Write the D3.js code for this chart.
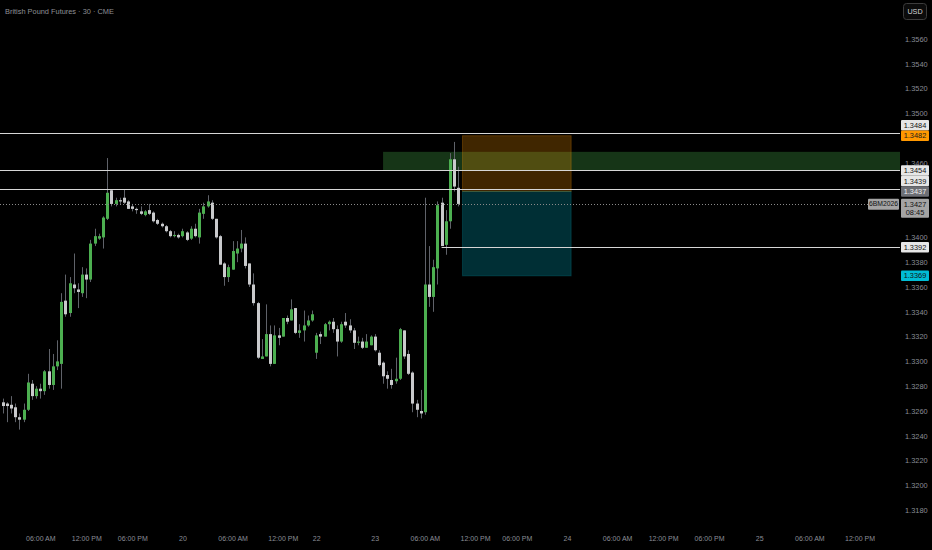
<!DOCTYPE html>
<html><head><meta charset="utf-8">
<script src="https://cdn.jsdelivr.net/npm/d3@7"></script>
<style>html,body{margin:0;padding:0;background:#000;overflow:hidden}svg{display:block}</style>
</head><body>
<svg id="c" width="932" height="550"></svg>
<script>
const title = "British Pound Futures · 30 · CME";
const currency = "USD";
const symbolCode = "6BM2026";
const countdown = "08:45";

const opens  = [1.3267,1.3266,1.3265,1.3263,1.3255,1.3253,1.3261,1.3282,1.3272,1.3278,1.3276,1.3292,1.3281,1.3296,1.3298,1.3349,1.3339,1.3362,1.3358,1.3355,1.3370,1.3366,1.3395,1.3399,1.3400,1.3415,1.3438,1.3427,1.3430,1.3432,1.3429,1.3425,1.3423,1.3421,1.3418,1.3422,1.3420,1.3414,1.3411,1.3409,1.3405,1.3401,1.3402,1.3401,1.3404,1.3399,1.3407,1.3400,1.3419,1.3425,1.3428,1.3415,1.3401,1.3379,1.3368,1.3374,1.3387,1.3391,1.3395,1.3379,1.3362,1.3347,1.3302,1.3304,1.3322,1.3298,1.3321,1.3320,1.3335,1.3333,1.3343,1.3323,1.3325,1.3329,1.3333,1.3307,1.3322,1.3320,1.3330,1.3332,1.3326,1.3316,1.3332,1.3329,1.3325,1.3315,1.3316,1.3311,1.3313,1.3320,1.3307,1.3299,1.3289,1.3285,1.3284,1.3286,1.3325,1.3306,1.3291,1.3266,1.3260,1.3259,1.3362,1.3352,1.3375,1.3428,1.3394,1.3413,1.3463,1.3440];
const highs  = [1.3270,1.3267,1.3272,1.3266,1.3258,1.3266,1.3290,1.3285,1.3280,1.3282,1.3293,1.3310,1.3306,1.3317,1.3355,1.3370,1.3368,1.3387,1.3363,1.3376,1.3375,1.3398,1.3407,1.3403,1.3417,1.3464,1.3439,1.3432,1.3432,1.3439,1.3430,1.3427,1.3424,1.3425,1.3422,1.3427,1.3421,1.3415,1.3412,1.3410,1.3406,1.3405,1.3403,1.3407,1.3405,1.3409,1.3411,1.3423,1.3428,1.3434,1.3430,1.3415,1.3402,1.3380,1.3378,1.3397,1.3397,1.3406,1.3400,1.3379,1.3371,1.3348,1.3318,1.3346,1.3329,1.3329,1.3327,1.3335,1.3337,1.3350,1.3343,1.3330,1.3341,1.3337,1.3341,1.3323,1.3324,1.3331,1.3333,1.3335,1.3329,1.3332,1.3339,1.3334,1.3327,1.3320,1.3319,1.3322,1.3321,1.3322,1.3309,1.3300,1.3292,1.3294,1.3303,1.3327,1.3325,1.3309,1.3292,1.3269,1.3277,1.3432,1.3393,1.3382,1.3429,1.3432,1.3422,1.3468,1.3477,1.3457];
const lows   = [1.3258,1.3251,1.3258,1.3251,1.3245,1.3251,1.3260,1.3269,1.3270,1.3270,1.3273,1.3278,1.3277,1.3293,1.3278,1.3336,1.3336,1.3355,1.3343,1.3352,1.3351,1.3364,1.3393,1.3398,1.3391,1.3414,1.3425,1.3425,1.3427,1.3427,1.3423,1.3421,1.3419,1.3418,1.3417,1.3418,1.3412,1.3410,1.3408,1.3404,1.3400,1.3400,1.3399,1.3400,1.3397,1.3398,1.3400,1.3395,1.3415,1.3424,1.3414,1.3399,1.3378,1.3361,1.3364,1.3374,1.3380,1.3388,1.3375,1.3360,1.3345,1.3302,1.3302,1.3304,1.3296,1.3298,1.3313,1.3320,1.3330,1.3333,1.3322,1.3319,1.3316,1.3328,1.3332,1.3302,1.3314,1.3320,1.3325,1.3323,1.3304,1.3315,1.3327,1.3323,1.3310,1.3313,1.3310,1.3311,1.3313,1.3308,1.3296,1.3282,1.3278,1.3278,1.3282,1.3285,1.3302,1.3289,1.3259,1.3255,1.3254,1.3257,1.3344,1.3340,1.3362,1.3393,1.3386,1.3407,1.3437,1.3425];
const closes = [1.3264,1.3264,1.3262,1.3255,1.3253,1.3261,1.3283,1.3272,1.3278,1.3276,1.3292,1.3281,1.3296,1.3300,1.3348,1.3338,1.3363,1.3359,1.3356,1.3370,1.3366,1.3395,1.3401,1.3401,1.3416,1.3436,1.3427,1.3430,1.3429,1.3428,1.3423,1.3423,1.3422,1.3419,1.3421,1.3419,1.3413,1.3411,1.3409,1.3405,1.3401,1.3402,1.3400,1.3405,1.3398,1.3407,1.3401,1.3420,1.3425,1.3429,1.3415,1.3400,1.3378,1.3368,1.3376,1.3389,1.3391,1.3395,1.3377,1.3362,1.3347,1.3303,1.3304,1.3322,1.3298,1.3321,1.3319,1.3335,1.3332,1.3342,1.3323,1.3325,1.3329,1.3333,1.3338,1.3321,1.3320,1.3330,1.3332,1.3326,1.3316,1.3330,1.3329,1.3325,1.3315,1.3316,1.3311,1.3316,1.3320,1.3309,1.3297,1.3288,1.3286,1.3281,1.3286,1.3326,1.3304,1.3290,1.3266,1.3261,1.3258,1.3362,1.3352,1.3376,1.3426,1.3393,1.3413,1.3463,1.3441,1.3427];

const priceTicks = [1.3180,1.3200,1.3220,1.3240,1.3260,1.3280,1.3300,1.3320,1.3340,1.3360,1.3380,1.3400,1.3420,1.3440,1.3460,1.3480,1.3500,1.3520,1.3540,1.3560];
const timeTickBars = [9,20,31,43,55,67,75,89,101,113,123,135,147,158,169,181,193,205];
const timeTickLabels = ["06:00 AM","12:00 PM","06:00 PM","20","06:00 AM","12:00 PM","22","23","06:00 AM","12:00 PM","06:00 PM","24","06:00 AM","12:00 PM","06:00 PM","25","06:00 AM","12:00 PM"];

// horizontal levels
const levelPrices = [1.3484, 1.3454, 1.3439, 1.3392];
const levelStartBars = [null, null, null, 105];

// supply zone
const zoneTop = 1.3469, zoneBottom = 1.3454, zoneStartBar = 91;

// short position tool
const posEntry = 1.3437, posStop = 1.3482, posTarget = 1.3369, posStartBar = 110, posEndBar = 136;

const lastPrice = 1.3427;

// right-axis labels
const axisLabels = [
  {price:1.3484, text:"1.3484", kind:"white", fixed:false},
  {price:1.3482, text:"1.3482", kind:"orange", fixed:true},
  {price:1.3454, text:"1.3454", kind:"white", fixed:true},
  {price:1.3439, text:"1.3439", kind:"white", fixed:false},
  {price:1.3437, text:"1.3437", kind:"dark", fixed:true},
  {price:1.3427, text:"1.3427", kind:"last", fixed:true},
  {price:1.3392, text:"1.3392", kind:"white", fixed:true},
  {price:1.3369, text:"1.3369", kind:"cyan", fixed:true}
];

// ---------- drawing ----------
const W = 932, H = 550;
const plotRight = 900;
const FONT = "'Liberation Sans', Arial, sans-serif";
const svg = d3.select("#c");
svg.append("rect").attr("width", W).attr("height", H).attr("fill", "#000");

const y = d3.scaleLinear().domain([1.3180, 1.3560]).range([510.2, 39]);
const x = d3.scaleLinear().domain([0, 109]).range([2.7, 458.3]);

const candles = opens.map((o, i) => ({i, o, h: highs[i], l: lows[i], c: closes[i]}));

// axis label layout (computed first so covered ticks can be hidden)
const labelH = 10.5;
axisLabels.forEach(d => { d.hh = d.kind === "last" ? 19 : labelH; });
const fixedL = axisLabels.filter(d => d.fixed);
fixedL.forEach(d => d.cy = y(d.price));
axisLabels.filter(d => !d.fixed).forEach(d => {
  let cy = y(d.price);
  fixedL.forEach(f => {
    const fTop = f.cy - labelH / 2, fBot = fTop + f.hh;
    if (cy + labelH / 2 > fTop && cy - labelH / 2 < fBot) {
      cy = y(d.price) <= f.cy ? fTop - labelH / 2 : fBot + labelH / 2;
    }
  });
  d.cy = cy;
});
const covered = v => axisLabels.some(d => {
  const t = d.cy - labelH / 2;
  return y(v) >= t - 1 && y(v) <= t + d.hh + 1;
});

// zone
svg.append("rect")
  .attr("x", x(zoneStartBar)).attr("width", plotRight - x(zoneStartBar))
  .attr("y", y(zoneTop)).attr("height", y(zoneBottom) - y(zoneTop))
  .attr("fill", "rgba(67,160,71,0.33)");

// position boxes
const px0 = x(posStartBar), px1 = x(posEndBar);
svg.append("rect").attr("x", px0).attr("width", px1 - px0)
  .attr("y", y(posStop)).attr("height", y(posEntry) - y(posStop))
  .attr("fill", "rgba(255,152,0,0.25)").attr("stroke", "rgba(255,152,0,0.25)").attr("stroke-width", 1);
svg.append("rect").attr("x", px0).attr("width", px1 - px0)
  .attr("y", y(posEntry)).attr("height", y(posTarget) - y(posEntry))
  .attr("fill", "rgba(0,188,212,0.25)").attr("stroke", "rgba(0,188,212,0.2)").attr("stroke-width", 1);

// y axis tick labels
const yAxis = d3.axisRight(y).tickValues(priceTicks.filter(v => !covered(v)))
  .tickFormat(d3.format(".4f")).tickSize(0).tickPadding(0);
const ga = svg.append("g").attr("transform", `translate(905,0)`).call(yAxis);
ga.select(".domain").remove();
ga.selectAll("text").attr("fill", "#8a8d96").attr("font-size", "7.4px").attr("font-family", FONT).attr("dy", "0.32em");

// x axis labels
const xAxis = d3.axisBottom(x).tickValues(timeTickBars).tickFormat((d, k) => timeTickLabels[k]).tickSize(0).tickPadding(0);
const gx = svg.append("g").attr("transform", `translate(0,537)`).call(xAxis);
gx.select(".domain").remove();
gx.selectAll("text").attr("fill", "#8a8d96").attr("font-size", "7px").attr("font-family", FONT).attr("dy", "0.5em");

// candles
const gc = svg.append("g");
gc.selectAll("line.w").data(candles).join("line")
  .attr("x1", d => Math.round(x(d.i)) + 0.5).attr("x2", d => Math.round(x(d.i)) + 0.5)
  .attr("y1", d => y(d.h)).attr("y2", d => y(d.l))
  .attr("stroke", "#5f6269").attr("stroke-width", 1);
gc.selectAll("rect.b").data(candles).join("rect")
  .attr("x", d => Math.round(x(d.i)) + 0.5 - 1.5).attr("width", 3)
  .attr("y", d => y(Math.max(d.o, d.c)))
  .attr("height", d => Math.max(1, Math.abs(y(d.o) - y(d.c))))
  .attr("fill", d => d.c >= d.o ? "#4caf50" : "#c9cacc");

// levels
levelPrices.forEach((p, k) => {
  const xs = levelStartBars[k] === null ? 0 : x(levelStartBars[k]);
  svg.append("line").attr("x1", xs).attr("x2", plotRight)
    .attr("y1", Math.round(y(p)) + 0.5).attr("y2", Math.round(y(p)) + 0.5)
    .attr("stroke", "#d6d6d6").attr("stroke-width", 1);
});

// last price dotted line
svg.append("line").attr("x1", 0).attr("x2", 868)
  .attr("y1", Math.round(y(lastPrice)) + 0.5).attr("y2", Math.round(y(lastPrice)) + 0.5)
  .attr("stroke", "#8a8a8a").attr("stroke-width", 1).attr("stroke-dasharray", "1,2");

// axis labels
const styles = {
  white: {bg: "#e6e6e6", fg: "#111"},
  orange: {bg: "#ff9800", fg: "#1a1a1a"},
  dark: {bg: "#6d6f75", fg: "#f0f0f0"},
  last: {bg: "#a4a4a4", fg: "#111"},
  cyan: {bg: "#00bcd4", fg: "#111"}
};
const gl = svg.append("g");
axisLabels.forEach(d => {
  const s = styles[d.kind];
  const top = d.cy - labelH / 2;
  gl.append("rect").attr("x", 901).attr("y", top).attr("width", 28).attr("height", d.hh)
    .attr("fill", s.bg).attr("rx", 1);
  gl.append("text").attr("x", 915).attr("y", d.cy).attr("dy", "0.35em").attr("text-anchor", "middle")
    .attr("fill", s.fg).attr("font-size", "7.4px").attr("font-family", FONT).text(d.text);
  if (d.kind === "last") {
    gl.append("text").attr("x", 915).attr("y", d.cy + 8.5).attr("dy", "0.35em").attr("text-anchor", "middle")
      .attr("fill", s.fg).attr("font-size", "7.4px").attr("font-family", FONT).text(countdown);
    gl.append("rect").attr("x", 868).attr("y", top).attr("width", 31).attr("height", labelH + 0.5)
      .attr("fill", "#a4a4a4").attr("rx", 1);
    gl.append("text").attr("x", 883.5).attr("y", d.cy).attr("dy", "0.35em").attr("text-anchor", "middle")
      .attr("fill", "#111").attr("font-size", "6.8px").attr("font-family", FONT).text(symbolCode);
  }
});

// title
svg.append("text").attr("x", 5).attr("y", 11).attr("dy", "0.35em")
  .attr("fill", "#8f9096").attr("font-size", "7.4px").attr("font-family", FONT).text(title);

// currency button
svg.append("rect").attr("x", 903.5).attr("y", 3.5).attr("width", 23).attr("height", 16).attr("rx", 3)
  .attr("fill", "#0b0b0b").attr("stroke", "#3c3c3c");
svg.append("text").attr("x", 915).attr("y", 11.5).attr("dy", "0.35em").attr("text-anchor", "middle")
  .attr("fill", "#d6d6d6").attr("font-size", "7.2px").attr("font-family", FONT).text(currency);
</script>
</body></html>
